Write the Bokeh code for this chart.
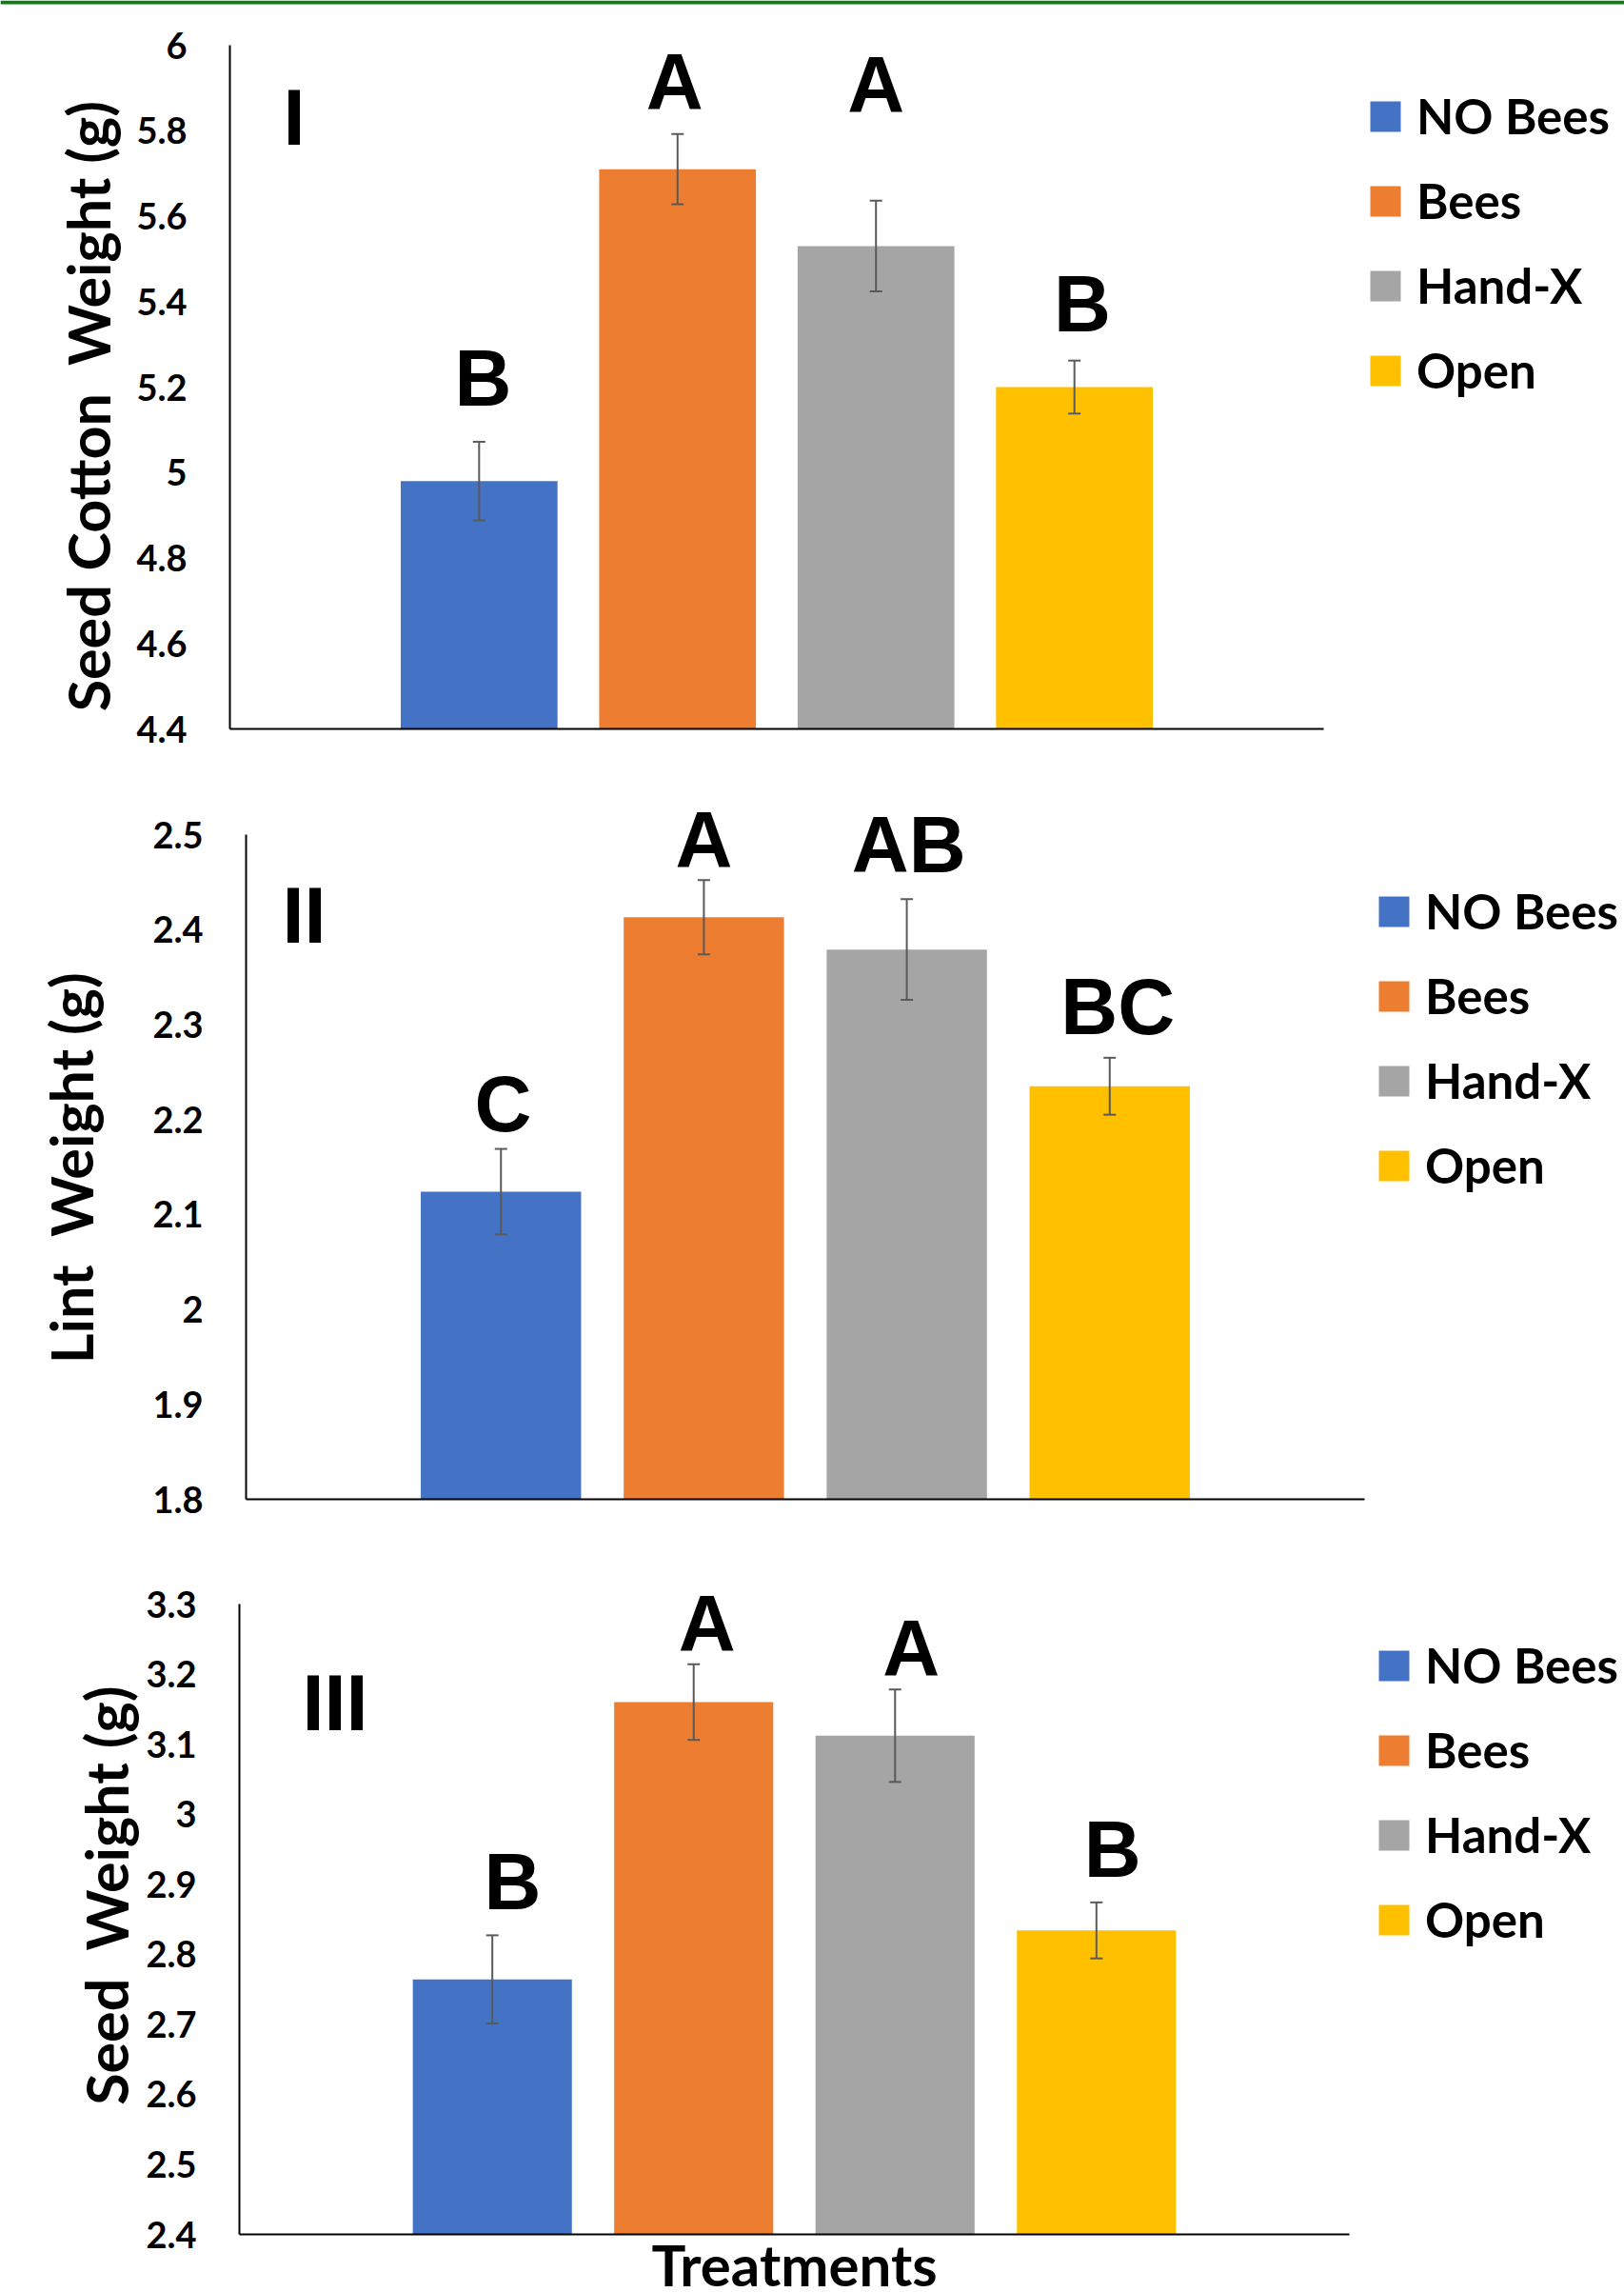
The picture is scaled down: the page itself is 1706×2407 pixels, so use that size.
import math
from bokeh.plotting import figure
from bokeh.layouts import column
from bokeh.models import (ColumnDataSource, Range1d, FixedTicker, Whisker, TeeHead,
                          Label, Legend, LegendItem, BoxAnnotation)
from bokeh.core.properties import value
from bokeh.embed import file_html
from bokeh.resources import INLINE

# ---------------- data ----------------
treatments = ["NO Bees", "Bees", "Hand-X", "Open"]
bar_colors = ["#4472C4", "#ED7D31", "#A5A5A5", "#FFC000"]

seed_cotton = [4.98, 5.71, 5.53, 5.20]
seed_cotton_err = [0.092, 0.082, 0.106, 0.062]
seed_cotton_letters = ["B", "A", "A", "B"]
seed_cotton_ticks = [4.4, 4.6, 4.8, 5.0, 5.2, 5.4, 5.6, 5.8, 6.0]
seed_cotton_tick_labels = ["4.4", "4.6", "4.8", "5", "5.2", "5.4", "5.6", "5.8", "6"]

lint = [2.124, 2.413, 2.379, 2.235]
lint_err = [0.045, 0.039, 0.053, 0.030]
lint_letters = ["C", "A", "AB", "BC"]
lint_ticks = [1.8, 1.9, 2.0, 2.1, 2.2, 2.3, 2.4, 2.5]
lint_tick_labels = ["1.8", "1.9", "2", "2.1", "2.2", "2.3", "2.4", "2.5"]

seed = [2.764, 3.160, 3.112, 2.834]
seed_err = [0.063, 0.054, 0.066, 0.040]
seed_letters = ["B", "A", "A", "B"]
seed_ticks = [2.4, 2.5, 2.6, 2.7, 2.8, 2.9, 3.0, 3.1, 3.2, 3.3]
seed_tick_labels = ["2.4", "2.5", "2.6", "2.7", "2.8", "2.9", "3", "3.1", "3.2", "3.3"]

# ---------------- annotation placement (not data) ----------------
letter_y_I = [5.220, 5.912, 5.906, 5.393]
letter_y_II = [2.216, 2.494, 2.489, 2.318]
letter_y_III = [2.903, 3.272, 3.236, 2.949]
letter_dx_I = [0.02, -0.015, 0.0, 0.04]
letter_dx_II = [0.01, 0.0, 0.01, 0.04]
letter_dx_III = [0.10, 0.066, 0.08, 0.08]

LABEL_FONT = "Lato"
LETTER_FONT = "Liberation Sans"
CANVAS_W = 1706
PAD = 1.256      # empty space (in bar slots) beside the outer bars
BAR_W = 0.79


def make_panel(vals, errs, letters, letter_y, letter_dx, ticks, tick_labels,
               ylabel, ylabel_pos, roman, roman_pos, legend_pos, geom, xlabel=None,
               top_rule=False):
    H, ax_left, ax_right, ax_top, ax_bottom = geom
    n = len(treatments)
    positions = [i + 1 for i in range(n)]
    x0, x1 = 1 - PAD, n + PAD
    sx = (ax_right - ax_left) / (x1 - x0)
    y0, y1 = ticks[0], ticks[-1]
    sy = (ax_bottom - ax_top) / (y1 - y0)
    y_top = y1 + ax_top / sy
    p = figure(output_backend="svg", toolbar_location=None, tools="",
               width=CANVAS_W, height=H, min_border=0,
               min_border_left=0, min_border_right=0, min_border_top=0, min_border_bottom=0,
               x_range=Range1d(x0 - ax_left / sx, x1 + (CANVAS_W - ax_right) / sx),
               y_range=Range1d(y0 - (H - ax_bottom) / sy, y_top))
    p.outline_line_color = None
    p.grid.visible = False
    p.background_fill_color = "white"
    p.border_fill_color = "white"

    if top_rule:
        p.add_layout(BoxAnnotation(bottom=y_top - 4 / sy, fill_color="#0b7d12",
                                   fill_alpha=1, line_color=None, level="underlay"))

    src = ColumnDataSource(dict(
        x=positions, top=vals, color=bar_colors, name=treatments,
        upper=[v + e for v, e in zip(vals, errs)],
        lower=[v - e for v, e in zip(vals, errs)],
    ))
    r = p.vbar(x="x", top="top", bottom=y0, width=BAR_W, fill_color="color",
               line_color=None, source=src)

    wh = Whisker(source=src, base="x", upper="upper", lower="lower", level="overlay",
                 line_color="#5a5a5a", line_width=2,
                 upper_head=TeeHead(size=13, line_color="#5a5a5a", line_width=2),
                 lower_head=TeeHead(size=13, line_color="#5a5a5a", line_width=2))
    p.add_layout(wh)

    lsrc = ColumnDataSource(dict(
        x=[x + d for x, d in zip(positions, letter_dx)], y=letter_y, text=letters))
    p.text(x="x", y="y", text="text", source=lsrc, text_align="center",
           text_baseline="middle", text_font=value(LETTER_FONT),
           text_font_style="bold", text_font_size="83px", text_color="black")

    # axes drawn at the plot-area edges
    p.xaxis.fixed_location = y0
    p.xaxis.bounds = (x0, x1)
    p.xaxis.ticker = FixedTicker(ticks=[])
    p.xaxis.axis_line_color = "black"
    p.xaxis.axis_line_width = 2
    p.xaxis.major_tick_line_color = None
    p.xaxis.minor_tick_line_color = None
    p.xaxis.major_label_text_color = None

    p.yaxis.fixed_location = x0
    p.yaxis.bounds = (y0, y1)
    p.yaxis.ticker = FixedTicker(ticks=ticks)
    p.yaxis.major_label_overrides = {t: lab for t, lab in zip(ticks, tick_labels)}
    p.yaxis.axis_line_color = "black"
    p.yaxis.axis_line_width = 2
    p.yaxis.major_tick_line_color = None
    p.yaxis.minor_tick_line_color = None
    p.yaxis.major_label_standoff = 39
    p.yaxis.major_label_text_font = LABEL_FONT
    p.yaxis.major_label_text_font_style = "bold"
    p.yaxis.major_label_text_font_size = "38px"
    p.yaxis.major_label_text_color = "black"

    p.add_layout(Label(x=ylabel_pos[0], y=H - ylabel_pos[1], x_units="screen", y_units="screen",
                       text=ylabel, angle=math.pi / 2, text_align="center",
                       text_baseline="middle", text_font=LABEL_FONT, text_font_style="bold",
                       text_font_size="61px", text_color="black"))
    p.add_layout(Label(x=roman_pos[0], y=H - roman_pos[1], x_units="screen", y_units="screen",
                       text=roman, text_align="left", text_baseline="middle",
                       text_font=LETTER_FONT, text_font_style="bold",
                       text_font_size="83px", text_color="black"))
    if xlabel is not None:
        p.add_layout(Label(x=xlabel[1], y=H - xlabel[2], x_units="screen", y_units="screen",
                           text=xlabel[0], text_align="center", text_baseline="middle",
                           text_font=LABEL_FONT, text_font_style="bold",
                           text_font_size="60px", text_color="black"))

    items = [LegendItem(label=t, renderers=[r], index=i) for i, t in enumerate(treatments)]
    leg = Legend(items=items, location=(legend_pos[0], H - legend_pos[1]),
                 glyph_width=40, glyph_height=40,
                 label_height=32, label_standoff=13, spacing=28, padding=0, margin=0,
                 border_line_color=None, background_fill_alpha=0,
                 label_text_font=LABEL_FONT, label_text_font_style="bold",
                 label_text_font_size="51px", label_text_color="black")
    p.add_layout(leg)
    return p


# geometry: canvas height, axis left x, axis right x, axis top y, axis bottom y (canvas px)
p1 = make_panel(seed_cotton, seed_cotton_err, seed_cotton_letters, letter_y_I, letter_dx_I,
                seed_cotton_ticks, seed_cotton_tick_labels,
                "Seed Cotton\u00a0 Weight (g)", (92, 426), "I", (297, 123), (1435, 419),
                (820, 241, 1390, 47, 765), top_rule=True)
p2 = make_panel(lint, lint_err, lint_letters, letter_y_II, letter_dx_II,
                lint_ticks, lint_tick_labels,
                "Lint\u00a0 Weight (g)", (74, 406), "II", (296, 141), (1444, 434),
                (810, 258, 1433, 56, 754))
p3 = make_panel(seed, seed_err, seed_letters, letter_y_III, letter_dx_III,
                seed_ticks, seed_tick_labels,
                "Seed\u00a0 Weight (g)", (111, 360), "III", (317, 158), (1444, 416),
                (775, 251, 1417, 54, 716), xlabel=("Treatments", 834, 747))

layout = column(p1, p2, p3, spacing=0)
open("out.html", "w").write(file_html(layout, INLINE))
